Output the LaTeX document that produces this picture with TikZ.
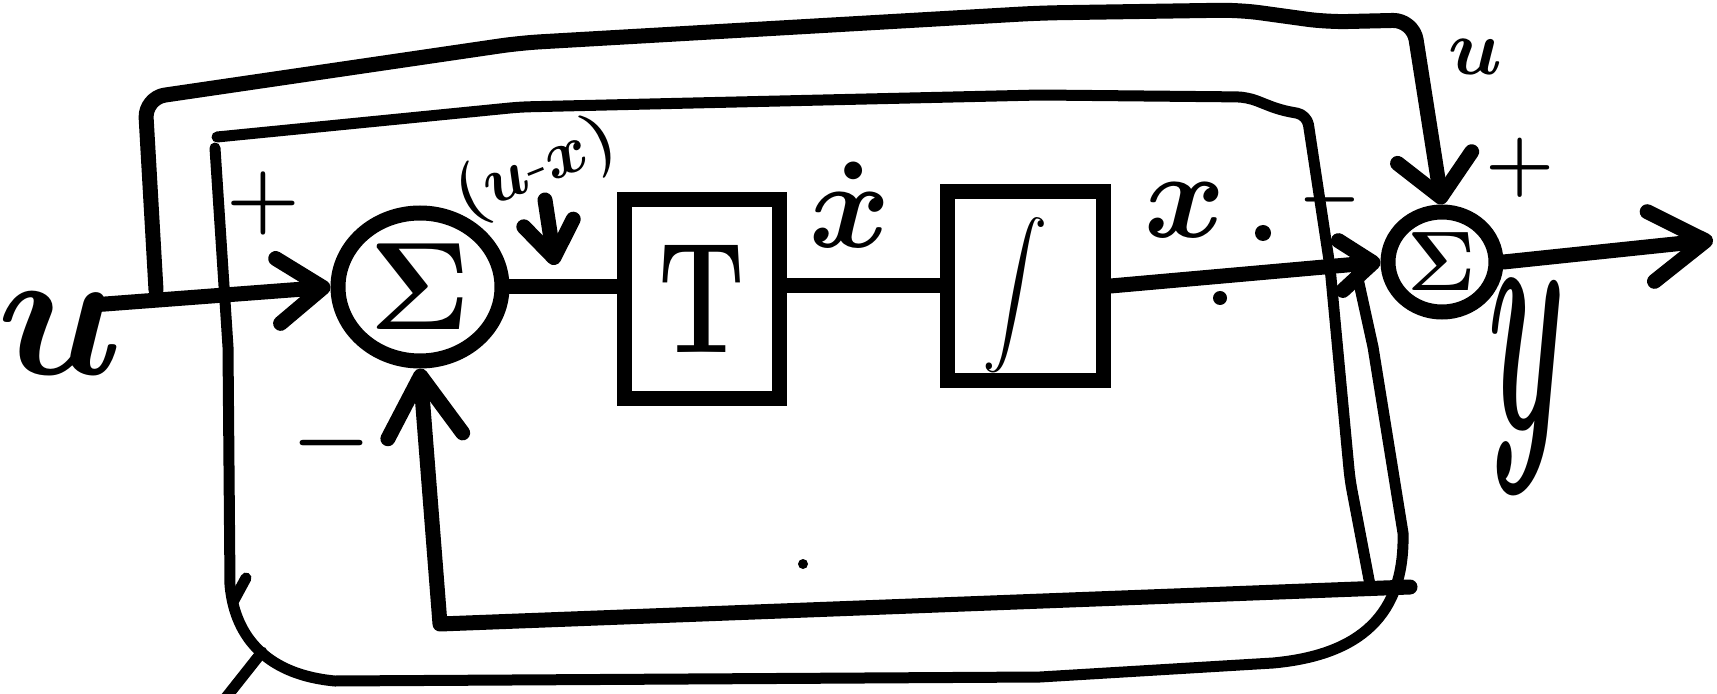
\RequirePackage{fix-cm}
\documentclass[tikz,border=0pt]{standalone}
\usepackage{amsmath}
\usepackage{graphicx}
\usetikzlibrary{arrows.meta,positioning,calc,shapes.geometric}
\tikzset{
  sketch line/.style={line width=3mm,line cap=round,line join=round,draw=black},
  sketch thin/.style={line width=2.2mm,line cap=round,line join=round,draw=black},
  sketch arrow/.style 2 args={sketch line,-{Straight Barb[round,length=#1,width=#2]}},
  sum node/.style={ellipse,draw=black,line width=3mm,inner sep=0pt},
  block node/.style={draw=black,line width=3mm,inner sep=0pt},
  sketch label/.style={inner sep=0pt}
}

\begin{document}
\begin{tikzpicture}[x=0.2mm,y=-0.2mm]
    \useasboundingbox (0,0) rectangle (1717,694);
    % summing junctions and blocks
    \node[sum node,minimum width=32.8mm,minimum height=29.6mm,font=\fontsize{71}{80}\selectfont\boldmath] (sumA) at (420,287) {$\Sigma$};
    \node[sum node,minimum width=21.6mm,minimum height=20mm,font=\fontsize{48}{54}\selectfont\boldmath] (sumB) at (1442,262) {$\Sigma$};
    \node[block node,minimum width=31mm,minimum height=39.6mm,font=\fontsize{90}{96}\selectfont\bfseries] (gainT) at (702,299) {\scalebox{0.7}[1]{T}};
    \node[block node,minimum width=31.2mm,minimum height=37.6mm] (integ) at (1025,286) {};
    \node[sketch label,font=\fontsize{80}{88}\selectfont\boldmath] (intSym) at (1015,295) {\scalebox{1.5}[1.6]{$\displaystyle\int$}};
    % labels
    \node[sketch label,font=\fontsize{105}{110}\selectfont\boldmath] (uIn) at (60,333) {$u$};
    \node[sketch label,font=\fontsize{48}{50}\selectfont\boldmath] (plusA) at (263,203) {$+$};
    \node[sketch label,font=\fontsize{51}{55}\selectfont\boldmath] (minusA) at (332,443) {$-$};
    \node[sketch label,rotate=22,font=\fontsize{38}{42}\selectfont\boldmath] (diffLbl) at (536,170) {$(u\text{-}x)$};
    \node[sketch label,font=\fontsize{70}{75}\selectfont\boldmath] (xdotLbl) at (850,205) {$\dot{x}$};
    \node[sketch label,font=\fontsize{70}{75}\selectfont\boldmath] (xLbl) at (1185,210) {$x$};
    \node[sketch label,font=\fontsize{40}{44}\selectfont\boldmath] (minusB) at (1330,200) {$-$};
    \node[sketch label,font=\fontsize{45}{50}\selectfont\boldmath] (uTop) at (1475,57) {$u$};
    \node[sketch label,font=\fontsize{45}{50}\selectfont\boldmath] (plusB) at (1520,168) {$+$};
    \node[sketch label,xscale=0.7,yscale=1.9,font=\fontsize{100}{110}\selectfont\boldmath] (yOut) at (1527,387) {$y$};
    % free ends
    \coordinate (uStart) at (92,305);
    \coordinate (tapU) at (156,290);
    \coordinate (yEnd) at (1713,240);
    \coordinate (diffTail) at (545,200);
    \coordinate (diffTip) at (555,265);
    \coordinate (fbR) at (1410,587);
    \coordinate (fbL) at (440,624);
    \coordinate (fbJoin) at (1370,585);
    \coordinate (tapX) at (1355,265);
    \coordinate (ptrStart) at (262,652);
    \coordinate (ptrEnd) at (224,700);
    % forward path
    \draw[sketch arrow={9mm}{13mm}] (uStart) -- (sumA.west);
    \draw[sketch line] (sumA.east) -- (sumA.east -| gainT.west);
    \draw[sketch line] (gainT.east |- integ.west) -- (integ.west);
    \draw[sketch arrow={6.5mm}{10mm}] (integ.east) -- (sumB.west);
    \draw[sketch arrow={11mm}{14mm}] (sumB.east) -- (yEnd);
    \draw[sketch arrow={7mm}{10mm}] (diffTail) -- (diffTip);
    % feed-forward of u
    \draw[sketch arrow={8mm}{15mm},rounded corners=4mm] (tapU) -- (145,98) -- (520,43) -- (1040,13) -- (1240,10) -- (1327,22) -- (1413,20) -- (sumB.north);
    % feedback of x
    \draw[sketch arrow={12mm}{15mm}] (fbR) -- (fbL) -- (sumA.south);
    \draw[sketch thin,rounded corners=2mm] (217,137) -- (520,107) -- (1040,95) -- (1247,97) -- (1280,110) -- (1307,115) -- (1330,267) -- (1350,480) -- (fbJoin);
    \draw[sketch thin] (215,148) -- (228,347) -- (230,585) .. controls (235,640) and (270,675) .. (335,681) -- (1040,677) -- (1273,663) .. controls (1360,655) and (1405,615) .. (1403,533) -- (1373,347) -- (tapX);
    \draw[sketch thin] (233,602) -- (246,578);
    \draw[sketch thin] (ptrStart) -- (ptrEnd);
    % stray dots
    \fill (1263,233) circle[radius=1.6mm];
    \fill (1220,298) circle[radius=1.4mm];
    \fill (803,564) circle[radius=1mm];
  \end{tikzpicture}
\end{document}
